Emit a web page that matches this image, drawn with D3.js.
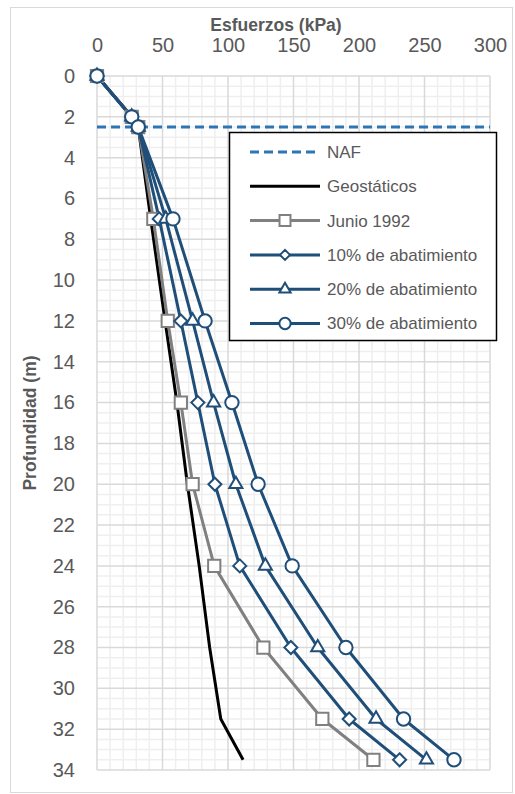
<!DOCTYPE html>
<html>
<head>
<meta charset="utf-8">
<script src="https://cdn.jsdelivr.net/npm/d3@7"></script>
<style>
  html, body { margin: 0; padding: 0; background: #fff; }
  svg { display: block; }
  text { font-family: "Liberation Sans", Arial, sans-serif; fill: #595959; }
</style>
</head>
<body>
<script>
// Depths (m) at which the stress profiles were evaluated
const depths = [0, 2, 2.5, 7, 12, 16, 20, 24, 28, 31.5, 33.5];

// Stresses (kPa) for each profile
const geostaticos   = [0, 26.5, 31.5, 41, 52, 61, 69, 78, 86, 94.5, 111.5];
const junio1992     = [0, 26.5, 31.5, 43, 54, 64, 73, 89.5, 127, 172, 211];
const abat10        = [0, 26.5, 31.5, 47.5, 64, 77, 90, 109, 148, 192.5, 231];
const abat20        = [0, 26.5, 31.5, 52.5, 73, 89, 106, 128.5, 168.5, 213, 251.5];
const abat30        = [0, 26.5, 31.5, 58, 82.5, 103, 123, 149, 190, 234, 272.5];

// Water table (NAF) depth and the stress span it is drawn across
const nafDepth = 2.5;
const nafStress = [0, 300];

const seriesNames = ["NAF", "Geostáticos", "Junio 1992", "10% de abatimiento", "20% de abatimiento", "30% de abatimiento"];
const xTicks = [0, 50, 100, 150, 200, 250, 300];
const yTicks = [0, 2, 4, 6, 8, 10, 12, 14, 16, 18, 20, 22, 24, 26, 28, 30, 32, 34];

const W = 515, H = 794;
const plot = { left: 97, right: 490, top: 76, bottom: 770 };

const svg = d3.select("body").append("svg").attr("width", W).attr("height", H);

// Chart frame
svg.append("rect").attr("x", 10.5).attr("y", 7.5).attr("width", 502).attr("height", 785)
  .attr("fill", "#fff").attr("stroke", "#d9d9d9").attr("stroke-width", 1);

const x = d3.scaleLinear().domain([0, 300]).range([plot.left, plot.right]);
const y = d3.scaleLinear().domain([0, 34]).range([plot.top, plot.bottom]);

// Gridlines: minor every 10 kPa / 0.5 m, major every 50 kPa / 2 m
const grid = svg.append("g");
d3.range(0, 301, 10).filter(v => v % 50 !== 0).forEach(v => {
  grid.append("line").attr("x1", x(v)).attr("x2", x(v)).attr("y1", plot.top).attr("y2", plot.bottom)
    .attr("stroke", "#efefef").attr("stroke-width", 1.5);
});
d3.range(0, 34.01, 0.5).filter(v => v % 2 !== 0).forEach(v => {
  grid.append("line").attr("x1", plot.left).attr("x2", plot.right).attr("y1", y(v)).attr("y2", y(v))
    .attr("stroke", "#efefef").attr("stroke-width", 1.5);
});
xTicks.forEach(v => {
  grid.append("line").attr("x1", x(v)).attr("x2", x(v)).attr("y1", plot.top).attr("y2", plot.bottom)
    .attr("stroke", "#d9d9d9").attr("stroke-width", 1.5);
});
yTicks.forEach(v => {
  grid.append("line").attr("x1", plot.left).attr("x2", plot.right).attr("y1", y(v)).attr("y2", y(v))
    .attr("stroke", "#d9d9d9").attr("stroke-width", 1.5);
});

// Axes (top for stresses, left for depth), labels only
const xAxis = svg.append("g").attr("transform", `translate(0,${plot.top})`)
  .call(d3.axisTop(x).tickValues(xTicks).tickSize(0).tickPadding(24));
xAxis.select(".domain").remove();
xAxis.selectAll("text").style("font-size", "20px").attr("fill", "#595959")
  .style("font-family", "'Liberation Sans', Arial, sans-serif");

const yAxis = svg.append("g").attr("transform", `translate(${plot.left},0)`)
  .call(d3.axisLeft(y).tickValues(yTicks).tickSize(0).tickPadding(22));
yAxis.select(".domain").remove();
yAxis.selectAll("text").style("font-size", "20px").attr("fill", "#595959")
  .style("font-family", "'Liberation Sans', Arial, sans-serif");

// Axis titles
svg.append("text").attr("x", 276).attr("y", 31).attr("text-anchor", "middle")
  .style("font-size", "17.5px").style("font-weight", "bold").text("Esfuerzos (kPa)");
svg.append("text").attr("transform", `translate(36,${(plot.top + plot.bottom) / 2}) rotate(-90)`)
  .attr("text-anchor", "middle").style("font-size", "17.5px").style("font-weight", "bold")
  .text("Profundidad (m)");

const BLUE = "#1f4e79", NAFBLUE = "#2e75b6", GRAY = "#808080";

// Water table
svg.append("line").attr("x1", x(nafStress[0])).attr("x2", x(nafStress[1]))
  .attr("y1", y(nafDepth)).attr("y2", y(nafDepth))
  .attr("stroke", NAFBLUE).attr("stroke-width", 3).attr("stroke-dasharray", "9,5");

const line = d3.line().x(d => x(d[1])).y(d => y(d[0]));

const sqSym = d3.symbol().type(d3.symbolSquare);
const diamondPath = (s) => `M0,${-s}L${s},0L0,${s}L${-s},0Z`;
const triSym = d3.symbol().type(d3.symbolTriangle);
const circSym = d3.symbol().type(d3.symbolCircle);

const series = [
  { name: seriesNames[1], vals: geostaticos, color: "#000", marker: null },
  { name: seriesNames[2], vals: junio1992, color: GRAY, marker: "square" },
  { name: seriesNames[3], vals: abat10, color: BLUE, marker: "diamond" },
  { name: seriesNames[4], vals: abat20, color: BLUE, marker: "triangle" },
  { name: seriesNames[5], vals: abat30, color: BLUE, marker: "circle" }
];

function markerPath(kind, big) {
  if (kind === "square") return sqSym.size(big ? 150 : 120)();
  if (kind === "diamond") return diamondPath(big ? 6.5 : 5);
  if (kind === "triangle") return triSym.size(big ? 75 : 55)();
  if (kind === "circle") return circSym.size(big ? 140 : 100)();
  return null;
}

series.forEach(s => {
  const pts = depths.map((d, i) => [d, s.vals[i]]);
  svg.append("path").datum(pts).attr("d", line).attr("fill", "none")
    .attr("stroke", s.color).attr("stroke-width", 3).attr("stroke-linejoin", "round");
});
series.forEach(s => {
  if (!s.marker) return;
  const pts = depths.map((d, i) => [d, s.vals[i]]);
  svg.append("g").selectAll("path").data(pts).join("path")
    .attr("transform", d => `translate(${x(d[1])},${y(d[0])})`)
    .attr("d", markerPath(s.marker, true))
    .attr("fill", "#fff").attr("stroke", s.color).attr("stroke-width", 2);
});

// Legend
const lg = svg.append("g");
lg.append("rect").attr("x", 229.5).attr("y", 132.5).attr("width", 267).attr("height", 208)
  .attr("fill", "#fff").attr("stroke", "#000").attr("stroke-width", 1.5);
const legendItems = [
  { name: seriesNames[0], color: NAFBLUE, dash: "9,5", marker: null },
  { name: seriesNames[1], color: "#000", dash: null, marker: null },
  { name: seriesNames[2], color: GRAY, dash: null, marker: "square" },
  { name: seriesNames[3], color: BLUE, dash: null, marker: "diamond" },
  { name: seriesNames[4], color: BLUE, dash: null, marker: "triangle" },
  { name: seriesNames[5], color: BLUE, dash: null, marker: "circle" }
];
legendItems.forEach((it, i) => {
  const cy = 152 + i * 34.3;
  lg.append("line").attr("x1", 250).attr("x2", 320).attr("y1", cy).attr("y2", cy)
    .attr("stroke", it.color).attr("stroke-width", 3)
    .attr("stroke-dasharray", it.dash);
  if (it.marker) {
    lg.append("path").attr("transform", `translate(285,${cy})`).attr("d", markerPath(it.marker, false))
      .attr("fill", "#fff").attr("stroke", it.color).attr("stroke-width", 2);
  }
  lg.append("text").attr("x", 327).attr("y", cy).attr("dy", "0.35em")
    .style("font-size", "17px").text(it.name);
});
</script>
</body>
</html>
